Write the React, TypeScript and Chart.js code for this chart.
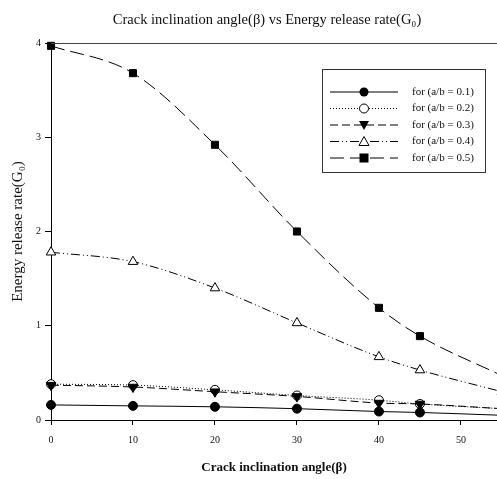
import React, { useEffect, useRef } from "react";
import { Chart, registerables } from "chart.js";

Chart.register(...registerables);

const titleText = "Crack inclination angle(β) vs Energy release rate(G₀)";
const xTitle = "Crack inclination angle(β)";
const yTitle = "Energy release rate(G₀)";

const angles = [0, 10, 20, 30, 40, 45, 55];
const ab01 = [0.16, 0.15, 0.14, 0.12, 0.09, 0.08, 0.05];
const ab02 = [0.38, 0.37, 0.32, 0.26, 0.21, 0.17, 0.12];
const ab03 = [0.37, 0.35, 0.3, 0.25, 0.18, 0.17, 0.12];
const ab04 = [1.78, 1.68, 1.4, 1.03, 0.67, 0.53, 0.3];
const ab05 = [3.97, 3.68, 2.92, 2.0, 1.19, 0.89, 0.47];

const seriesLabels = [
  "for (a/b = 0.1)",
  "for (a/b = 0.2)",
  "for (a/b = 0.3)",
  "for (a/b = 0.4)",
  "for (a/b = 0.5)",
];

const xTicks = [0, 10, 20, 30, 40, 50];
const yTicks = [0, 1, 2, 3, 4];

const FONT = "'Liberation Serif', 'DejaVu Serif', serif";

type Marker = "circle" | "circleOpen" | "triDown" | "triOpen" | "square";

const styles: { dash: number[]; marker: Marker; order: number }[] = [
  { dash: [], marker: "circle", order: 0 },
  { dash: [1, 2], marker: "circleOpen", order: 2 },
  { dash: [8, 4], marker: "triDown", order: 1 },
  { dash: [9, 3, 1, 3, 1, 3], marker: "triOpen", order: 3 },
  { dash: [14, 6], marker: "square", order: 4 },
];

function drawMarker(ctx: CanvasRenderingContext2D, m: Marker, x: number, y: number) {
  ctx.save();
  ctx.setLineDash([]);
  ctx.lineWidth = 1;
  ctx.strokeStyle = "#000";
  ctx.fillStyle = "#000";
  ctx.beginPath();
  if (m === "circle" || m === "circleOpen") {
    ctx.arc(x, y, 4.5, 0, Math.PI * 2);
    if (m === "circle") ctx.fill();
    else {
      ctx.fillStyle = "#fff";
      ctx.fill();
      ctx.stroke();
    }
  } else if (m === "triDown") {
    ctx.moveTo(x - 5, y - 4);
    ctx.lineTo(x + 5, y - 4);
    ctx.lineTo(x, y + 5);
    ctx.closePath();
    ctx.fill();
  } else if (m === "triOpen") {
    ctx.moveTo(x - 5, y + 4);
    ctx.lineTo(x + 5, y + 4);
    ctx.lineTo(x, y - 5);
    ctx.closePath();
    ctx.fillStyle = "#fff";
    ctx.fill();
    ctx.stroke();
  } else {
    ctx.rect(x - 4.5, y - 4.5, 9, 9);
    ctx.fill();
  }
  ctx.restore();
}

const framePlugin = {
  id: "frameAndLegend",
  afterDraw(chart: any) {
    const { ctx, chartArea } = chart;
    ctx.save();
    // top frame line
    ctx.strokeStyle = "#444";
    ctx.lineWidth = 1;
    ctx.beginPath();
    ctx.moveTo(chartArea.left, chartArea.top + 0.5);
    ctx.lineTo(chartArea.right, chartArea.top + 0.5);
    ctx.stroke();

    // title
    ctx.fillStyle = "#111";
    ctx.font = `14.5px ${FONT}`;
    ctx.textAlign = "center";
    ctx.textBaseline = "middle";
    ctx.fillText(titleText, (chartArea.left + chartArea.right) / 2 - 7, 20);

    // legend
    const x0 = chartArea.right - 175;
    const y0 = chartArea.top + 26;
    const w = 163;
    const h = 103;
    ctx.fillStyle = "#fff";
    ctx.fillRect(x0, y0, w, h);
    ctx.strokeStyle = "#333";
    ctx.strokeRect(x0 + 0.5, y0 + 0.5, w, h);
    ctx.font = `11px ${FONT}`;
    ctx.textAlign = "left";
    ctx.textBaseline = "middle";
    seriesLabels.forEach((lab, i) => {
      const y = y0 + 23 + i * 16.5;
      ctx.save();
      ctx.strokeStyle = "#000";
      ctx.lineWidth = 1;
      ctx.setLineDash(styles[i].dash);
      ctx.beginPath();
      ctx.moveTo(x0 + 8, y);
      ctx.lineTo(x0 + 76, y);
      ctx.stroke();
      ctx.restore();
      drawMarker(ctx, styles[i].marker, x0 + 42, y);
      ctx.fillStyle = "#111";
      ctx.fillText(lab, x0 + 90, y);
    });
    ctx.restore();
  },
};

export default function App() {
  const ref = useRef<HTMLCanvasElement>(null);
  useEffect(() => {
    if (!ref.current) return;
    const series = [ab01, ab02, ab03, ab04, ab05];
    const datasets = series.map((vals, i) => {
      const m = styles[i].marker;
      return {
        label: seriesLabels[i],
        data: vals.map((v, j) => ({ x: angles[j], y: v })),
        order: styles[i].order,
        borderColor: "#000",
        borderWidth: 1,
        borderDash: styles[i].dash,
        backgroundColor: m === "circleOpen" || m === "triOpen" ? "#fff" : "#000",
        pointBorderColor: "#000",
        pointBorderWidth: 1,
        pointStyle: m === "square" ? "rect" : m.startsWith("tri") ? "triangle" : "circle",
        pointRotation: m === "triDown" ? 180 : 0,
        pointRadius: m === "square" ? 5 : m.startsWith("tri") ? 5.5 : 4.5,
        cubicInterpolationMode: "monotone" as const,
        fill: false,
        clip: false as const,
      };
    });
    const chart = new Chart(ref.current, {
      type: "line",
      data: { datasets },
      options: {
        animation: false,
        responsive: false,
        layout: { autoPadding: false, padding: { top: 43, right: 0, left: 0, bottom: 0 } },
        plugins: { legend: { display: false }, tooltip: { enabled: false }, title: { display: false } },
        scales: {
          x: {
            type: "linear",
            min: 0,
            max: 54.4,
            afterBuildTicks: (s: any) => {
              s.ticks = xTicks.map((v) => ({ value: v }));
            },
            afterFit: (s: any) => {
              s.height = 59;
            },
            grid: { display: true, drawOnChartArea: false, tickLength: 5, color: "#000" },
            border: { display: true, color: "#000" },
            ticks: { color: "#111", font: { family: FONT, size: 10 }, padding: 9, maxRotation: 0 },
            title: {
              display: true,
              text: xTitle,
              color: "#111",
              font: { family: FONT, size: 13, weight: "bold" },
              padding: { top: 4, bottom: 4 },
            },
          },
          y: {
            type: "linear",
            min: 0,
            max: 4,
            afterBuildTicks: (s: any) => {
              s.ticks = yTicks.map((v) => ({ value: v }));
            },
            afterFit: (s: any) => {
              s.width = 51;
            },
            grid: { display: true, drawOnChartArea: false, tickLength: 6, color: "#000" },
            border: { display: true, color: "#000" },
            ticks: { color: "#111", font: { family: FONT, size: 10 }, padding: 4 },
            title: {
              display: true,
              text: yTitle,
              color: "#111",
              font: { family: FONT, size: 15 },
              padding: { top: 9, bottom: 4 },
            },
          },
        },
      },
      plugins: [framePlugin],
    });
    return () => chart.destroy();
  }, []);
  return (
    <div style={{ position: "absolute", left: 0, top: 0, width: 497, height: 479, background: "#fff" }}>
      <canvas ref={ref} width={497} height={479} style={{ width: 497, height: 479 }} />
    </div>
  );
}
